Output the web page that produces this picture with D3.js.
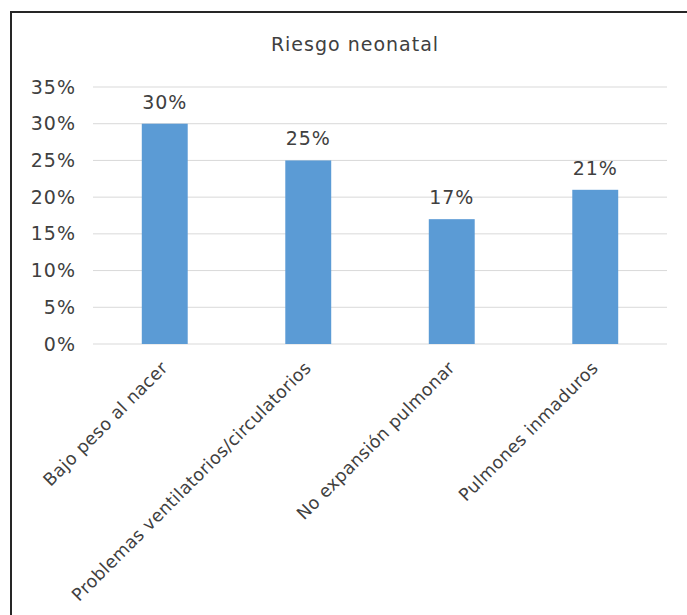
<!DOCTYPE html>
<html>
<head>
<meta charset="utf-8">
<script src="https://cdn.jsdelivr.net/npm/d3@7"></script>
<style>
  body { margin: 0; background: #fff; }
  svg { display: block; font-family: "DejaVu Sans", Verdana, sans-serif; }
  .axis text { fill: #404040; }
</style>
</head>
<body>
<svg id="chart"></svg>
<script>
// chart data
const categories = ["Bajo peso al nacer", "Problemas ventilatorios/circulatorios", "No expansión pulmonar", "Pulmones inmaduros"];
const values = [30, 25, 17, 21];
const yTicks = [0, 5, 10, 15, 20, 25, 30, 35];
const title = "Riesgo neonatal";

const width = 687, height = 615;
const margin = {top: 87, left: 93};

const svg = d3.select('#chart')
    .attr('width', width)
    .attr('height', height);

// frame (only top and left edges are visible in the reference)
svg.append('path')
    .attr('d', `M11,${height} L11,12 L${width},12`)
    .attr('fill', 'none')
    .attr('stroke', '#262626')
    .attr('stroke-width', 2);

const innerW = 667 - margin.left;
const innerH = 344 - margin.top;

const chart = svg.append('g')
    .attr('transform', `translate(${margin.left},${margin.top})`);

const xScale = d3.scaleBand()
    .domain(categories)
    .range([0, innerW]);

const yScale = d3.scaleLinear()
    .domain([0, 35])
    .range([innerH, 0]);

// gridlines
chart.append('g')
  .selectAll('line')
  .data(yTicks)
  .join('line')
    .attr('x1', 0)
    .attr('x2', innerW)
    .attr('y1', d => yScale(d))
    .attr('y2', d => yScale(d))
    .attr('stroke', '#d9d9d9')
    .attr('stroke-width', 1);

// y axis labels
const yAxis = d3.axisLeft(yScale)
    .tickValues(yTicks)
    .tickSize(0)
    .tickPadding(17)
    .tickFormat(d => d + '%');

chart.append('g')
    .attr('class', 'axis y-axis')
    .call(yAxis)
    .call(g => g.select('.domain').remove())
    .selectAll('text')
    .style('font-size', '19px')
    .style('letter-spacing', '1px')
    .style('font-family', '"DejaVu Sans", Verdana, sans-serif');

// bars
const barW = xScale.bandwidth() * 0.32;
const data = categories.map((c, i) => ({x: c, y: values[i]}));

chart.selectAll('.bar')
  .data(data)
  .join('rect')
    .attr('class', 'bar')
    .attr('x', d => xScale(d.x) + (xScale.bandwidth() - barW) / 2)
    .attr('width', barW)
    .attr('y', d => yScale(d.y))
    .attr('height', d => innerH - yScale(d.y))
    .attr('fill', '#5b9bd5');

// value labels
chart.selectAll('.bar-label')
  .data(data)
  .join('text')
    .attr('class', 'bar-label')
    .attr('x', d => xScale(d.x) + xScale.bandwidth() / 2)
    .attr('y', d => yScale(d.y) - 15)
    .attr('text-anchor', 'middle')
    .attr('fill', '#404040')
    .style('font-size', '19px')
    .style('letter-spacing', '1px')
    .text(d => d.y + '%');

// x axis labels, rotated
const xAxis = d3.axisBottom(xScale)
    .tickSize(0)
    .tickPadding(0);

chart.append('g')
    .attr('class', 'axis x-axis')
    .attr('transform', `translate(0,${innerH})`)
    .call(xAxis)
    .call(g => g.select('.domain').remove())
    .selectAll('text')
    .style('font-size', '17.5px')
    .style('letter-spacing', '0.3px')
    .style('font-family', '"DejaVu Sans", Verdana, sans-serif')
    .attr('text-anchor', 'end')
    .attr('dy', 0)
    .attr('transform', 'translate(4,25) rotate(-45)');

// title
svg.append('text')
    .attr('x', 355)
    .attr('y', 51)
    .attr('text-anchor', 'middle')
    .attr('fill', '#404040')
    .style('font-size', '19px')
    .style('letter-spacing', '1px')
    .text(title);
</script>
</body>
</html>
